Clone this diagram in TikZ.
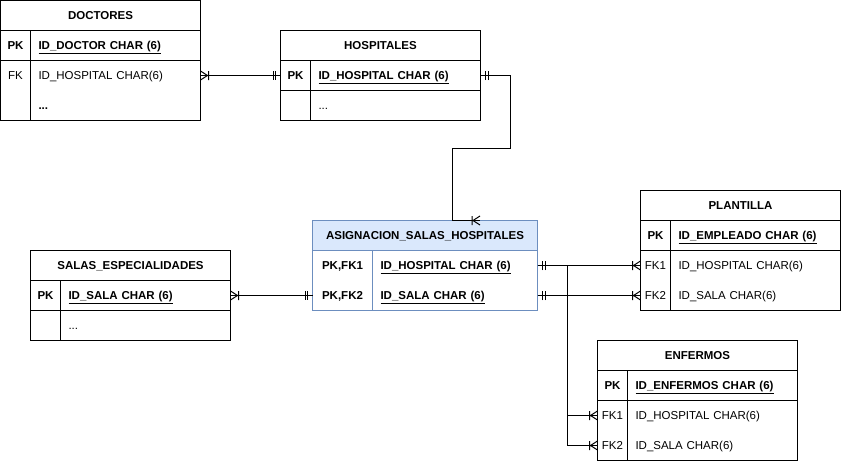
\documentclass[tikz,border=0pt]{standalone}
\usepackage{fontspec}
\setmainfont{Liberation Sans}
\usepackage{tikz}
\usetikzlibrary{calc}
\usetikzlibrary{positioning}

\newcommand{\erfont}{\fontsize{11.5}{13}\selectfont}
\definecolor{asgline}{HTML}{6C8EBF}
\definecolor{asgfill}{HTML}{DAE8FC}

% crow's foot ends
\pgfdeclarearrow{
  name=erone,
  parameters={\the\pgflinewidth},
  setup code={
    \pgfarrowssettipend{0pt}
    \pgfarrowssetlineend{0pt}
    \pgfarrowssetbackend{-8pt}
    \pgfarrowshullpoint{0pt}{4.5pt}
    \pgfarrowshullpoint{-8pt}{4.5pt}
    \pgfarrowshullpoint{-8pt}{-4.5pt}
    \pgfarrowshullpoint{0pt}{-4.5pt}
  },
  drawing code={
    \pgfpathmoveto{\pgfqpoint{-5pt}{4.5pt}}
    \pgfpathlineto{\pgfqpoint{-5pt}{-4.5pt}}
    \pgfpathmoveto{\pgfqpoint{-7.5pt}{4.5pt}}
    \pgfpathlineto{\pgfqpoint{-7.5pt}{-4.5pt}}
    \pgfusepathqstroke
  }
}
\pgfdeclarearrow{
  name=ermany,
  parameters={\the\pgflinewidth},
  setup code={
    \pgfarrowssettipend{0pt}
    \pgfarrowssetlineend{0pt}
    \pgfarrowssetbackend{-9pt}
    \pgfarrowshullpoint{0pt}{4.5pt}
    \pgfarrowshullpoint{-9pt}{4.5pt}
    \pgfarrowshullpoint{-9pt}{-4.5pt}
    \pgfarrowshullpoint{0pt}{-4.5pt}
  },
  drawing code={
    \pgfpathmoveto{\pgfqpoint{0pt}{4.5pt}}
    \pgfpathlineto{\pgfqpoint{-7pt}{0pt}}
    \pgfpathlineto{\pgfqpoint{0pt}{-4.5pt}}
    \pgfpathmoveto{\pgfqpoint{-8pt}{4.5pt}}
    \pgfpathlineto{\pgfqpoint{-8pt}{-4.5pt}}
    \pgfusepathqstroke
  }
}

\tikzset{
    tabhead/.style={
           rectangle,
           draw=black,
           minimum width=#1, minimum height=30pt,
           inner sep=0pt, outer sep=0pt,
           font=\erfont\bfseries,
           text height=9pt, text depth=1pt,
           },
    tabhead/.default=200pt,
    keycell/.style={
           rectangle,
           minimum width=#1, minimum height=30pt,
           inner sep=0pt, outer sep=0pt,
           font=\erfont,
           text height=9pt, text depth=1pt,
           },
    keycell/.default=30pt,
    fldcell/.style={
           rectangle,
           text width=#1, minimum height=30pt,
           inner xsep=8pt, inner ysep=0pt, outer sep=0pt,
           align=left,
           font=\erfont,
           text height=9pt, text depth=1pt,
           },
    fldcell/.default=154pt,
}

\begin{document}
\begin{tikzpicture}[x=1pt,y=-1pt,line width=1pt]
    \useasboundingbox (-0.5,-0.5) rectangle (840.5,460.5);

    % DOCTORES
    \node[tabhead] (doc) at (100,15) {DOCTORES};
    \node[keycell] (d1k) [below right=0pt of doc.south west] {\textbf{PK}};
    \node[fldcell] (d1f) [right=0pt of d1k] {\textbf{\underline{ID\_DOCTOR CHAR (6)}}};
    \node[keycell] (d2k) [below=0pt of d1k] {FK};
    \node[fldcell] (d2f) [right=0pt of d2k] {ID\_HOSPITAL CHAR(6)};
    \node[keycell] (d3k) [below=0pt of d2k] {};
    \node[fldcell] (d3f) [right=0pt of d3k] {\textbf{...}};
    \draw (d1k.north west) rectangle (d3f.south east);
    \draw (d1k.north east) -- (d3k.south east);
    \draw (d1k.south west) -- (d1f.south east);

    % HOSPITALES
    \node[tabhead] (hosp) at (380,45) {HOSPITALES};
    \node[keycell] (h1k) [below right=0pt of hosp.south west] {\textbf{PK}};
    \node[fldcell] (h1f) [right=0pt of h1k] {\textbf{\underline{ID\_HOSPITAL CHAR (6)}}};
    \node[keycell] (h2k) [below=0pt of h1k] {};
    \node[fldcell] (h2f) [right=0pt of h2k] {...};
    \draw (h1k.north west) rectangle (h2f.south east);
    \draw (h1k.north east) -- (h2k.south east);
    \draw (h1k.south west) -- (h1f.south east);

    % ASIGNACION_SALAS_HOSPITALES
    \node[tabhead=225pt, draw=asgline, fill=asgfill] (asg) at (424.5,235) {ASIGNACION\_SALAS\_HOSPITALES};
    \node[keycell=60pt] (a1k) [below right=0pt of asg.south west] {\textbf{PK,FK1}};
    \node[fldcell=149pt] (a1f) [right=0pt of a1k] {\textbf{\underline{ID\_HOSPITAL CHAR (6)}}};
    \node[keycell=60pt] (a2k) [below=0pt of a1k] {\textbf{PK,FK2}};
    \node[fldcell=149pt] (a2f) [right=0pt of a2k] {\textbf{\underline{ID\_SALA CHAR (6)}}};
    \draw[asgline] (a1k.north west) rectangle (a2f.south east);
    \draw[asgline] (a1k.north east) -- (a2k.south east);

    % SALAS_ESPECIALIDADES
    \node[tabhead] (sala) at (130,265) {SALAS\_ESPECIALIDADES};
    \node[keycell] (s1k) [below right=0pt of sala.south west] {\textbf{PK}};
    \node[fldcell] (s1f) [right=0pt of s1k] {\textbf{\underline{ID\_SALA CHAR (6)}}};
    \node[keycell] (s2k) [below=0pt of s1k] {};
    \node[fldcell] (s2f) [right=0pt of s2k] {...};
    \draw (s1k.north west) rectangle (s2f.south east);
    \draw (s1k.north east) -- (s2k.south east);
    \draw (s1k.south west) -- (s1f.south east);

    % PLANTILLA
    \node[tabhead] (plan) at (740,205) {PLANTILLA};
    \node[keycell] (p1k) [below right=0pt of plan.south west] {\textbf{PK}};
    \node[fldcell] (p1f) [right=0pt of p1k] {\textbf{\underline{ID\_EMPLEADO CHAR (6)}}};
    \node[keycell] (p2k) [below=0pt of p1k] {FK1};
    \node[fldcell] (p2f) [right=0pt of p2k] {ID\_HOSPITAL CHAR(6)};
    \node[keycell] (p3k) [below=0pt of p2k] {FK2};
    \node[fldcell] (p3f) [right=0pt of p3k] {ID\_SALA CHAR(6)};
    \draw (p1k.north west) rectangle (p3f.south east);
    \draw (p1k.north east) -- (p3k.south east);
    \draw (p1k.south west) -- (p1f.south east);

    % ENFERMOS
    \node[tabhead] (enf) at (697,355) {ENFERMOS};
    \node[keycell] (e1k) [below right=0pt of enf.south west] {\textbf{PK}};
    \node[fldcell] (e1f) [right=0pt of e1k] {\textbf{\underline{ID\_ENFERMOS CHAR (6)}}};
    \node[keycell] (e2k) [below=0pt of e1k] {FK1};
    \node[fldcell] (e2f) [right=0pt of e2k] {ID\_HOSPITAL CHAR(6)};
    \node[keycell] (e3k) [below=0pt of e2k] {FK2};
    \node[fldcell] (e3f) [right=0pt of e3k] {ID\_SALA CHAR(6)};
    \draw (e1k.north west) rectangle (e3f.south east);
    \draw (e1k.north east) -- (e3k.south east);
    \draw (e1k.south west) -- (e1f.south east);

    % relations
    \coordinate[right=55pt of asg.north] (asgin);
    \draw[ermany-erone] (d2f.east) -- (h1k.west);
    \draw[erone-ermany] (h1f.east) -- ++(30,0) |- (452,148) |- (asgin);
    \draw[ermany-erone] (s1f.east) -- (a2k.west);
    \draw[erone-ermany] (a1f.east) -- (p2k.west);
    \draw[erone-ermany] (a2f.east) -- (p3k.west);
    \draw[erone-ermany] (a1f.east) -- ++(30,0) |- (e2k.west);
    \draw[erone-ermany] (a2f.east) -- ++(30,0) |- (e3k.west);
\end{tikzpicture}
\end{document}
